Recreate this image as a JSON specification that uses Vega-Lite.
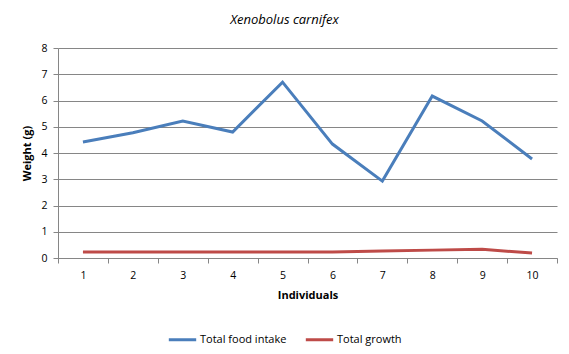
{
  "$schema": "https://vega.github.io/schema/vega-lite/v6.json",
  "autosize": "none",
  "width": 499,
  "height": 210,
  "padding": {"left": 58, "top": 48, "right": 12, "bottom": 96},
  "background": "white",
  "title": {"text": "Xenobolus carnifex", "font": "Open Sans", "fontSize": 13, "fontStyle": "italic", "fontWeight": "normal", "color": "#000000", "offset": 16, "anchor": "middle", "frame": "group", "dx": -23},
  "config": {
    "view": {"stroke": null},
    "axis": {"labelFont": "Open Sans", "labelFontSize": 10.5, "labelColor": "#000000", "titleFont": "Open Sans", "titleFontSize": 11, "titleFontWeight": "bold", "titleColor": "#000000", "domainColor": "#868686", "tickColor": "#868686", "gridColor": "#868686"},
    "legend": {"labelFont": "Open Sans", "labelFontSize": 11, "labelColor": "#000000"}
  },
  "data": {"values": [
    {"ind": 1, "series": "Total food intake", "w": 4.42},
    {"ind": 2, "series": "Total food intake", "w": 4.77},
    {"ind": 3, "series": "Total food intake", "w": 5.22},
    {"ind": 4, "series": "Total food intake", "w": 4.8},
    {"ind": 5, "series": "Total food intake", "w": 6.7},
    {"ind": 6, "series": "Total food intake", "w": 4.34},
    {"ind": 7, "series": "Total food intake", "w": 2.93},
    {"ind": 8, "series": "Total food intake", "w": 6.17},
    {"ind": 9, "series": "Total food intake", "w": 5.22},
    {"ind": 10, "series": "Total food intake", "w": 3.77},
    {"ind": 1, "series": "Total growth", "w": 0.23},
    {"ind": 2, "series": "Total growth", "w": 0.23},
    {"ind": 3, "series": "Total growth", "w": 0.23},
    {"ind": 4, "series": "Total growth", "w": 0.23},
    {"ind": 5, "series": "Total growth", "w": 0.23},
    {"ind": 6, "series": "Total growth", "w": 0.23},
    {"ind": 7, "series": "Total growth", "w": 0.27},
    {"ind": 8, "series": "Total growth", "w": 0.3},
    {"ind": 9, "series": "Total growth", "w": 0.33},
    {"ind": 10, "series": "Total growth", "w": 0.19}
  ]},
  "mark": {"type": "line", "strokeWidth": 3},
  "encoding": {
    "x": {"field": "ind", "type": "ordinal", "title": "Individuals", "scale": {"paddingInner": 0, "paddingOuter": 0}, "axis": {"labelAngle": 0, "tickBand": "extent", "tickSize": 5, "labelPadding": 7, "titlePadding": 9, "grid": false}},
    "y": {"field": "w", "type": "quantitative", "title": "Weight (g)", "scale": {"domain": [0, 8], "nice": false}, "axis": {"values": [0, 1, 2, 3, 4, 5, 6, 7, 8], "labelOverlap": false, "grid": true, "tickSize": 5, "labelPadding": 6, "titlePadding": 8, "domain": true}},
    "color": {"field": "series", "type": "nominal", "title": null, "scale": {"domain": ["Total food intake", "Total growth"], "range": ["#4a7ebb", "#be4b48"]}, "legend": {"orient": "none", "legendX": 109, "legendY": 276, "direction": "horizontal", "symbolType": "stroke", "symbolStrokeWidth": 3, "symbolSize": 750, "columnPadding": 12, "labelOffset": 2}}
  }
}
